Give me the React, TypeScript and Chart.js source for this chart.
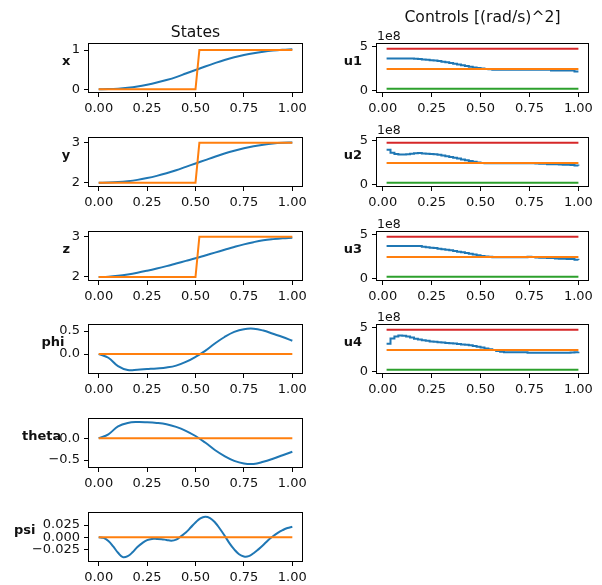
import React, { useEffect, useRef } from "react";
import { Chart, registerables } from "chart.js";

Chart.register(...registerables);

const FONT = "'DejaVu Sans', sans-serif";
const TXT = "#111";
const BLUE = "#1f77b4";
const ORANGE = "#ff7f0e";
const GREEN = "#2ca02c";
const RED = "#d62728";

// ---------- data: states ----------
const tState = [0, 0.05, 0.1, 0.15, 0.2, 0.25, 0.3, 0.35, 0.4, 0.45, 0.5, 0.55, 0.6, 0.65, 0.7, 0.75, 0.8, 0.85, 0.9, 0.95, 1.0];
const xState = [0, 0.004, 0.016, 0.038, 0.07, 0.115, 0.17, 0.235, 0.31, 0.4, 0.49, 0.58, 0.665, 0.745, 0.815, 0.872, 0.92, 0.957, 0.985, 1.005, 1.02];
const yState = [2, 2.004, 2.016, 2.038, 2.07, 2.115, 2.17, 2.235, 2.31, 2.395, 2.48, 2.565, 2.65, 2.73, 2.8, 2.86, 2.91, 2.95, 2.98, 2.997, 3.005];
const zState = [2, 2.008, 2.03, 2.063, 2.105, 2.155, 2.21, 2.27, 2.335, 2.4, 2.465, 2.535, 2.605, 2.675, 2.745, 2.81, 2.865, 2.91, 2.94, 2.962, 2.975];
const phiState = [0, -0.08, -0.26, -0.345, -0.34, -0.325, -0.31, -0.29, -0.25, -0.17, -0.06, 0.07, 0.23, 0.37, 0.48, 0.54, 0.55, 0.51, 0.44, 0.37, 0.29];
const thetaState = [0, 0.09, 0.27, 0.35, 0.37, 0.365, 0.35, 0.32, 0.26, 0.17, 0.05, -0.1, -0.27, -0.41, -0.52, -0.58, -0.59, -0.54, -0.47, -0.39, -0.31];

const tPsi = [0, 0.025, 0.05, 0.075, 0.1, 0.125, 0.15, 0.175, 0.2, 0.225, 0.25, 0.275, 0.3, 0.325, 0.35, 0.375, 0.4, 0.425, 0.45, 0.475, 0.5, 0.525, 0.55, 0.575, 0.6, 0.625, 0.65, 0.675, 0.7, 0.725, 0.75, 0.775, 0.8, 0.825, 0.85, 0.875, 0.9, 0.925, 0.95, 0.975, 1.0];
const psiState = [0, -0.0014, -0.0076, -0.019, -0.032, -0.041, -0.039, -0.031, -0.02, -0.012, -0.006, -0.0035, -0.0035, -0.004, -0.0055, -0.007, -0.005, 0.002, 0.0097, 0.02, 0.0305, 0.039, 0.0424, 0.0396, 0.031, 0.018, 0.0035, -0.012, -0.025, -0.035, -0.0396, -0.039, -0.033, -0.025, -0.016, -0.006, 0.002, 0.009, 0.0146, 0.019, 0.0215];

// references (orange)
const tRef = [0, 0.5, 0.52, 1.0];
const xRef = [0, 0, 1, 1];
const yRef = [2, 2, 3, 3];
const zRef = [2, 2, 3, 3];
const angRef = [0, 0, 0, 0];

// ---------- data: controls (units of 1e8 (rad/s)^2) ----------
const tCtrl = [0.02, 0.04, 0.06, 0.08, 0.1, 0.12, 0.14, 0.16, 0.18, 0.2, 0.22, 0.24, 0.26, 0.28, 0.3, 0.32, 0.34, 0.36, 0.38, 0.4, 0.42, 0.44, 0.46, 0.48, 0.5, 0.52, 0.54, 0.56, 0.58, 0.6, 0.62, 0.64, 0.66, 0.68, 0.7, 0.72, 0.74, 0.76, 0.78, 0.8, 0.82, 0.84, 0.86, 0.88, 0.9, 0.92, 0.94, 0.96, 0.98, 1.0];
const u1 = [3.62, 3.62, 3.62, 3.62, 3.62, 3.62, 3.62, 3.6, 3.58, 3.52, 3.48, 3.44, 3.4, 3.34, 3.27, 3.2, 3.12, 3.04, 2.96, 2.88, 2.79, 2.7, 2.62, 2.55, 2.5, 2.45, 2.4, 2.37, 2.35, 2.35, 2.35, 2.35, 2.35, 2.35, 2.35, 2.35, 2.35, 2.35, 2.35, 2.35, 2.35, 2.35, 2.27, 2.27, 2.27, 2.27, 2.27, 2.27, 2.15, 2.15];
const u2 = [3.95, 3.6, 3.45, 3.42, 3.41, 3.44, 3.5, 3.55, 3.58, 3.52, 3.5, 3.47, 3.43, 3.37, 3.3, 3.22, 3.12, 3.03, 2.94, 2.84, 2.75, 2.66, 2.57, 2.5, 2.44, 2.42, 2.42, 2.42, 2.42, 2.42, 2.42, 2.42, 2.42, 2.42, 2.42, 2.42, 2.42, 2.42, 2.38, 2.35, 2.35, 2.31, 2.31, 2.29, 2.27, 2.25, 2.23, 2.21, 2.15, 2.12];
const u3 = [3.7, 3.7, 3.7, 3.7, 3.7, 3.7, 3.7, 3.7, 3.7, 3.6, 3.56, 3.5, 3.45, 3.38, 3.32, 3.26, 3.2, 3.12, 3.05, 2.98, 2.9, 2.82, 2.73, 2.64, 2.56, 2.5, 2.46, 2.42, 2.4, 2.4, 2.4, 2.4, 2.4, 2.4, 2.4, 2.4, 2.48, 2.45, 2.38, 2.37, 2.36, 2.33, 2.33, 2.28, 2.25, 2.23, 2.21, 2.21, 2.12, 2.1];
const u4 = [3.14, 3.75, 3.98, 4.08, 4.07, 3.98, 3.85, 3.72, 3.62, 3.55, 3.48, 3.42, 3.37, 3.32, 3.28, 3.25, 3.2, 3.17, 3.12, 3.08, 3.03, 2.97, 2.9, 2.82, 2.72, 2.62, 2.52, 2.43, 2.33, 2.25, 2.2, 2.2, 2.2, 2.2, 2.2, 2.2, 2.12, 2.12, 2.12, 2.12, 2.12, 2.12, 2.12, 2.12, 2.12, 2.12, 2.12, 2.15, 2.2, 2.23];
const tBound = [0.02, 1.0];
const uHover = [2.43, 2.43];
const uMin = [0.2, 0.2];
const uMax = [4.75, 4.75];

// tick labels
const xTicks = [0, 0.25, 0.5, 0.75, 1.0];
const xTickLabels = ["0.00", "0.25", "0.50", "0.75", "1.00"];
const uTicks = [0, 5];
const uTickLabels = ["0", "5"];

// ---------- layout ----------
const COL_L = [89, 377];
const COL_W = [213, 211];
const CANVAS_L = [0, 310];
const ROW_T = [44, 138, 232, 325, 419, 513];
const ROW_H = 48;
const PT = 12;
const PB = 30;
const PR = 12;
const TICK_PX = 13;

type Series = { t: number[]; v: number[]; color: string; order: number; stepped?: boolean; tension?: number };
type PanelDef = {
  col: number;
  row: number;
  label: string;
  labelX: number;
  xMin: number;
  xMax: number;
  yMin: number;
  yMax: number;
  yTicks: number[];
  yTickLabels: string[];
  series: Series[];
  offsetText?: string;
};

const M = "\u2212";

const panels: PanelDef[] = [
  { col: 0, row: 0, label: "x", labelX: 66.3, xMin: -0.05, xMax: 1.05, yMin: -0.07, yMax: 1.153, yTicks: [0, 1], yTickLabels: ["0", "1"],
    series: [{ t: tState, v: xState, color: BLUE, order: 2, tension: 0.4 }, { t: tRef, v: xRef, color: ORANGE, order: 1 }] },
  { col: 0, row: 1, label: "y", labelX: 66, xMin: -0.05, xMax: 1.05, yMin: 1.917, yMax: 3.117, yTicks: [2, 3], yTickLabels: ["2", "3"],
    series: [{ t: tState, v: yState, color: BLUE, order: 2, tension: 0.4 }, { t: tRef, v: yRef, color: ORANGE, order: 1 }] },
  { col: 0, row: 2, label: "z", labelX: 66.3, xMin: -0.05, xMax: 1.05, yMin: 1.925, yMax: 3.117, yTicks: [2, 3], yTickLabels: ["2", "3"],
    series: [{ t: tState, v: zState, color: BLUE, order: 2, tension: 0.4 }, { t: tRef, v: zRef, color: ORANGE, order: 1 }] },
  { col: 0, row: 3, label: "phi", labelX: 53, xMin: -0.05, xMax: 1.05, yMin: -0.41, yMax: 0.63, yTicks: [0, 0.5], yTickLabels: ["0.0", "0.5"],
    series: [{ t: tState, v: phiState, color: BLUE, order: 2, tension: 0.4 }, { t: tRef, v: angRef, color: ORANGE, order: 1 }] },
  { col: 0, row: 4, label: "theta", labelX: 41.7, xMin: -0.05, xMax: 1.05, yMin: -0.66, yMax: 0.44, yTicks: [-0.5, 0], yTickLabels: [M + "0.5", "0.0"],
    series: [{ t: tState, v: thetaState, color: BLUE, order: 2, tension: 0.4 }, { t: tRef, v: angRef, color: ORANGE, order: 1 }] },
  { col: 0, row: 5, label: "psi", labelX: 24.7, xMin: -0.05, xMax: 1.05, yMin: -0.049, yMax: 0.05, yTicks: [-0.025, 0, 0.025], yTickLabels: [M + "0.025", "0.000", "0.025"],
    series: [{ t: tPsi, v: psiState, color: BLUE, order: 2, tension: 0.4 }, { t: tRef, v: angRef, color: ORANGE, order: 1 }] },
];

const ctrlSeries = [u1, u2, u3, u4];
ctrlSeries.forEach((u, i) => {
  panels.push({
    col: 1, row: i, label: "u" + (i + 1), labelX: 352.8, xMin: -0.029, xMax: 1.049, yMin: -0.17, yMax: 5.28,
    yTicks: uTicks, yTickLabels: uTickLabels, offsetText: "1e8",
    series: [
      { t: tCtrl, v: u, color: BLUE, order: 4, stepped: true },
      { t: tBound, v: uHover, color: ORANGE, order: 3 },
      { t: tBound, v: uMin, color: GREEN, order: 2 },
      { t: tBound, v: uMax, color: RED, order: 1 },
    ],
  });
});

const framePlugin = {
  id: "frame",
  afterDraw(chart: any) {
    const { ctx, chartArea: a } = chart;
    ctx.save();
    ctx.strokeStyle = "#000";
    ctx.lineWidth = 1;
    ctx.strokeRect(Math.round(a.left) - 0.5, Math.round(a.top) - 0.5, Math.round(a.right - a.left) + 1, Math.round(a.bottom - a.top) + 1);
    ctx.restore();
  },
};

function Panel({ p }: { p: PanelDef }) {
  const ref = useRef<HTMLCanvasElement>(null);
  const PL = COL_L[p.col] - CANVAS_L[p.col];
  const w = PL + COL_W[p.col] + PR;
  const h = PT + ROW_H + PB;
  useEffect(() => {
    const chart = new Chart(ref.current as HTMLCanvasElement, {
      type: "line",
      data: {
        datasets: p.series.map((s) => ({
          data: s.t.map((t, i) => ({ x: t, y: s.v[i] })),
          borderColor: s.color,
          backgroundColor: s.color,
          borderWidth: 2,
          pointRadius: 0,
          fill: false,
          order: s.order,
          stepped: s.stepped ? "before" : false,
          tension: s.tension ?? 0,
        })) as any,
      },
      options: {
        animation: false,
        responsive: false,
        devicePixelRatio: 1,
        layout: { padding: { top: PT, right: PR, left: 0, bottom: 0 } },
        plugins: { legend: { display: false }, tooltip: { enabled: false } },
        scales: {
          x: {
            type: "linear",
            min: p.xMin,
            max: p.xMax,
            afterBuildTicks: (s: any) => {
              s.ticks = xTicks.map((v) => ({ value: v }));
            },
            afterFit: (s: any) => {
              s.height = PB;
            },
            ticks: {
              autoSkip: false,
              maxRotation: 0,
              padding: 4,
              color: TXT,
              font: { family: FONT, size: TICK_PX },
              callback: (_v: any, i: number) => xTickLabels[i],
            },
            grid: { display: true, drawOnChartArea: false, drawTicks: true, tickLength: 5, color: "#000", lineWidth: 1 },
            border: { display: false },
          },
          y: {
            type: "linear",
            min: p.yMin,
            max: p.yMax,
            afterBuildTicks: (s: any) => {
              s.ticks = p.yTicks.map((v) => ({ value: v }));
            },
            afterFit: (s: any) => {
              s.width = PL;
            },
            ticks: {
              autoSkip: false,
              padding: 4,
              color: TXT,
              font: { family: FONT, size: TICK_PX },
              callback: (_v: any, i: number) => p.yTickLabels[i],
            },
            grid: { display: true, drawOnChartArea: false, drawTicks: true, tickLength: 5, color: "#000", lineWidth: 1 },
            border: { display: false },
          },
        },
      } as any,
      plugins: [framePlugin],
    });
    return () => chart.destroy();
  }, []);
  return (
    <canvas
      ref={ref}
      width={w}
      height={h}
      style={{ position: "absolute", left: CANVAS_L[p.col], top: ROW_T[p.row] - PT, width: w, height: h }}
    />
  );
}

export default function App() {
  return (
    <div style={{ position: "fixed", left: 0, top: 0, width: 602, height: 585, background: "#fff", overflow: "hidden" }}>
      {panels.map((p, i) => (
        <Panel key={i} p={p} />
      ))}
      <svg width={602} height={585} style={{ position: "absolute", left: 0, top: 0, pointerEvents: "none" }}>
        <text x={195.5} y={36.5} fontFamily={FONT} fontSize={15.6} textAnchor="middle" fill={TXT}>States</text>
        <text x={482.5} y={21.5} fontFamily={FONT} fontSize={15.6} textAnchor="middle" fill={TXT}>Controls [(rad/s)^2]</text>
        {panels.map((p, i) => (
          <text key={"l" + i} x={p.labelX} y={ROW_T[p.row] + ROW_H / 2 - 3} fontFamily={FONT} fontSize={13} fontWeight="bold" textAnchor="middle" fill={TXT}>
            {p.label}
          </text>
        ))}
        {panels.filter((p) => p.offsetText).map((p, i) => (
          <text key={"o" + i} x={COL_L[p.col]} y={ROW_T[p.row] - 4} fontFamily={FONT} fontSize={12.5} fill={TXT}>
            {p.offsetText}
          </text>
        ))}
      </svg>
    </div>
  );
}
